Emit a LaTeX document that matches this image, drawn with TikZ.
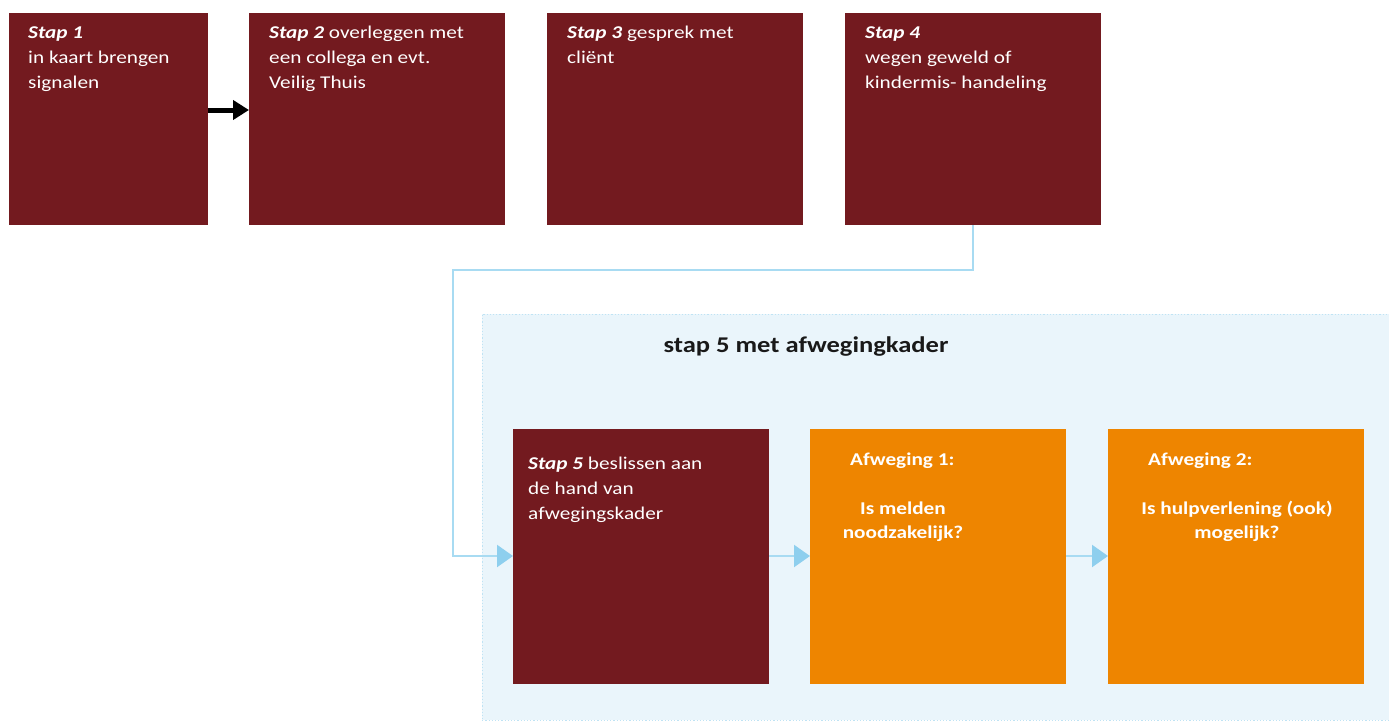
\documentclass[tikz,border=0pt]{standalone}
\usepackage{fontspec}
\setmainfont{Carlito}[FakeStretch=1.18]
\usetikzlibrary{arrows.meta,calc}
\definecolor{dred}{HTML}{731A1F}
\definecolor{orng}{HTML}{EE8500}
\definecolor{bgblue}{HTML}{EAF5FB}
\definecolor{lineblue}{HTML}{A8DBF2}
\definecolor{tipblue}{HTML}{8ECFEE}
\definecolor{edgeblue}{HTML}{BFE3F4}
\begin{document}
\begin{tikzpicture}[x=1pt,y=-1pt,
  box/.style={draw=none, anchor=north west, minimum height=212pt, minimum width=256pt, inner sep=0pt},
  redbox/.style={box, fill=dred},
  orbox/.style={box, fill=orng, minimum height=255pt},
  txt/.style={anchor=north west, inner sep=0pt, text=white, align=left,
    font=\fontsize{18}{25}\selectfont},
  btxt/.style={txt, font=\fontsize{18}{24.5}\selectfont\bfseries},
  ctxt/.style={btxt, anchor=north, align=center},
  bluecon/.style={draw=lineblue, line width=2.2pt, -{Triangle[length=16pt,width=22pt,color=tipblue]}}
]
\useasboundingbox (0,0) rectangle (1389,720);
% top row
\node[redbox, minimum width=199pt] (b1) at (9,13) {};
\node[redbox] (b2) at (249,13) {};
\node[redbox] (b3) at (547,13) {};
\node[redbox] (b4) at (845,13) {};
\node[txt] (t1) at (28,21) {\strut\textbf{\textit{Stap 1}}\\in kaart brengen\\signalen};
\node[txt] (t2) at (269,21) {\strut\textbf{\textit{Stap 2}} overleggen met\\een collega en evt.\\Veilig Thuis};
\node[txt] (t3) at (567,21) {\strut\textbf{\textit{Stap 3}} gesprek met\\cliënt};
\node[txt] (t4) at (865,21) {\strut\textbf{\textit{Stap 4}}\\wegen geweld of\\kindermis- handeling};
\draw[line width=5pt, -{Triangle[length=16pt,width=19pt]}] ($(b1.north east)+(0,97)$) -- ($(b2.north west)+(0,97)$);
% background panel
\node[draw=edgeblue, dotted, line width=1.2pt, fill=bgblue, anchor=north west, minimum width=907pt, minimum height=406pt, inner sep=0pt] (bg) at (481.5,313.5) {};
\node[anchor=base, inner sep=0pt, font=\fontsize{22.5}{27}\selectfont\bfseries, text=black!90] (title) at (806,352) {stap 5 met afwegingkader};
% lower row
\node[redbox, minimum height=255pt] (s5) at (513,429) {};
\node[orbox] (a1) at (810,429) {};
\node[orbox] (a2) at (1108,429) {};
\node[txt] (t5) at (528,452) {\strut\textbf{\textit{Stap 5}} beslissen aan\\de hand van\\afwegingskader};
\node[btxt] (h1) at (850,447.9) {\strut Afweging 1:};
\node[ctxt] (q1) at (903,496.9) {\strut Is melden\\noodzakelijk?};
\node[btxt] (h2) at (1148,447.9) {\strut Afweging 2:};
\node[ctxt] (q2) at (1237,496.9) {\strut Is hulpverlening (ook)\\mogelijk?};
% connectors
\coordinate (bend) at (453,270);
\draw[bluecon] (b4.south) |- (bend) |- ($(s5.north west)+(0,127)$);
\draw[bluecon] ($(s5.north east)+(0,127)$) -- ($(a1.north west)+(0,127)$);
\draw[bluecon] ($(a1.north east)+(0,127)$) -- ($(a2.north west)+(0,127)$);
\end{tikzpicture}
\end{document}
